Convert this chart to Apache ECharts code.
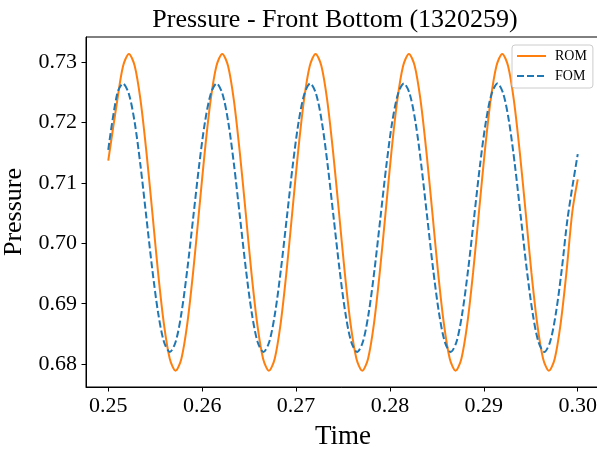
<!DOCTYPE html>
<html>
<head>
<meta charset="utf-8">
<script src="https://cdn.jsdelivr.net/npm/echarts@6/dist/echarts.min.js"></script>
<style>
html,body{margin:0;padding:0;background:#fff;}
#chart{width:597px;height:449px;}
</style>
</head>
<body>
<div id="chart"></div>
<script>
// ROM (orange, solid)
var romTime = [0.25000,0.25096,0.25158,
  0.25220,0.25282,0.25344,0.25406,0.25469,0.25531,0.25593,0.25655,0.25717,0.25779,0.25841,0.25903,0.25966,0.26028,0.26090,0.26152,
  0.26214,0.26276,0.26338,0.26400,0.26463,0.26525,0.26587,0.26649,0.26711,0.26773,0.26835,0.26897,0.26960,0.27022,0.27084,0.27146,
  0.27208,0.27270,0.27332,0.27394,0.27457,0.27519,0.27581,0.27643,0.27705,0.27767,0.27829,0.27891,0.27954,0.28016,0.28078,0.28140,
  0.28202,0.28264,0.28326,0.28388,0.28451,0.28513,0.28575,0.28637,0.28699,0.28761,0.28823,0.28885,0.28948,0.29010,0.29072,0.29134,
  0.29196,0.29258,0.29320,0.29382,0.29445,0.29507,0.29569,0.29631,0.29693,0.29755,0.29817,0.29879,0.29942,0.30000];
var romPressure = [0.7137,0.7237,0.7294,
  0.7314,0.7294,0.7237,0.7152,0.7052,0.6951,0.6866,0.6809,0.6789,0.6809,0.6866,0.6951,0.7052,0.7152,0.7237,0.7294,
  0.7314,0.7294,0.7237,0.7152,0.7052,0.6951,0.6866,0.6809,0.6789,0.6809,0.6866,0.6951,0.7052,0.7152,0.7237,0.7294,
  0.7314,0.7294,0.7237,0.7152,0.7052,0.6951,0.6866,0.6809,0.6789,0.6809,0.6866,0.6951,0.7052,0.7152,0.7237,0.7294,
  0.7314,0.7294,0.7237,0.7152,0.7052,0.6951,0.6866,0.6809,0.6789,0.6809,0.6866,0.6951,0.7052,0.7152,0.7237,0.7294,
  0.7314,0.7294,0.7237,0.7152,0.7052,0.6951,0.6866,0.6809,0.6789,0.6809,0.6866,0.6951,0.7052,0.7106];
// FOM (blue, dashed)
var fomTime = [0.25000,0.25095,
  0.25157,0.25219,0.25282,0.25344,0.25406,0.25469,0.25531,0.25593,0.25656,0.25718,0.25780,0.25842,0.25905,0.25967,0.26029,0.26092,
  0.26154,0.26216,0.26279,0.26341,0.26403,0.26466,0.26528,0.26590,0.26653,0.26715,0.26777,0.26839,0.26902,0.26964,0.27026,0.27089,
  0.27151,0.27213,0.27276,0.27338,0.27400,0.27463,0.27525,0.27587,0.27650,0.27712,0.27774,0.27836,0.27899,0.27961,0.28023,0.28086,
  0.28148,0.28210,0.28273,0.28335,0.28397,0.28460,0.28522,0.28584,0.28647,0.28709,0.28771,0.28833,0.28896,0.28958,0.29020,0.29083,
  0.29145,0.29207,0.29270,0.29332,0.29394,0.29457,0.29519,0.29581,0.29644,0.29706,0.29768,0.29830,0.29893,0.30000];
var fomPressure = [0.7155,0.7248,
  0.7265,0.7248,0.7200,0.7128,0.7043,0.6957,0.6885,0.6837,0.6820,0.6837,0.6885,0.6957,0.7043,0.7128,0.7200,0.7248,
  0.7265,0.7248,0.7200,0.7128,0.7043,0.6957,0.6885,0.6837,0.6820,0.6837,0.6885,0.6957,0.7043,0.7128,0.7200,0.7248,
  0.7265,0.7248,0.7200,0.7128,0.7043,0.6957,0.6885,0.6837,0.6820,0.6837,0.6885,0.6957,0.7043,0.7128,0.7200,0.7248,
  0.7265,0.7248,0.7200,0.7128,0.7043,0.6957,0.6885,0.6837,0.6820,0.6837,0.6885,0.6957,0.7043,0.7128,0.7200,0.7248,
  0.7265,0.7248,0.7200,0.7128,0.7043,0.6957,0.6885,0.6837,0.6820,0.6837,0.6885,0.6957,0.7043,0.7148];
var xTicks = [0.25,0.26,0.27,0.28,0.29,0.30];
var yTicks = [0.68,0.69,0.70,0.71,0.72,0.73];

function pairs(xs, ys){ return xs.map(function(x,i){ return [x, ys[i]]; }); }

var FONT = "'Liberation Serif', 'DejaVu Serif', serif";
var chart = echarts.init(document.getElementById('chart'), null, {renderer:'canvas'});
chart.setOption({
  animation:false,
  backgroundColor:'#fff',
  title:{
    text:'Pressure - Front Bottom (1320259)',
    left:330, top:2, textAlign:'center',
    textStyle:{fontFamily:FONT, fontSize:26, fontWeight:'normal', color:'#000'}
  },
  legend:{
    orient:'vertical', left:512, top:45,
    padding:[4,6,5,4], itemGap:6, itemWidth:29, itemHeight:14,
    backgroundColor:'rgba(255,255,255,0.8)', borderColor:'#cccccc', borderWidth:1, borderRadius:3,
    itemStyle:{opacity:0, borderWidth:0},
    textStyle:{fontFamily:FONT, fontSize:14, color:'#000', padding:[0,0,0,4]},
    data:['ROM','FOM']
  },
  grid:{left:86, top:37, width:514, height:350, show:true, borderColor:'#000', borderWidth:1,
    containLabel:false, outerBoundsMode:'none'},
  xAxis:{
    type:'value', min:0.24763, max:0.30237,
    name:'Time', nameLocation:'middle', nameGap:36,
    nameTextStyle:{fontFamily:FONT, fontSize:27, color:'#000'},
    axisLine:{show:true, lineStyle:{color:'#000', width:1}},
    axisTick:{show:true, length:4.5, lineStyle:{color:'#000', width:1}, customValues:xTicks},
    axisLabel:{fontFamily:FONT, fontSize:22, color:'#000', margin:8, customValues:xTicks,
      formatter:function(v){return v.toFixed(2);}},
    splitLine:{show:false}
  },
  yAxis:{
    type:'value', min:0.6762, max:0.7342,
    name:'Pressure', nameLocation:'middle', nameGap:57,
    nameTextStyle:{fontFamily:FONT, fontSize:26, color:'#000'},
    axisLine:{show:true, lineStyle:{color:'#000', width:1}},
    axisTick:{show:true, length:4.5, lineStyle:{color:'#000', width:1}, customValues:yTicks},
    axisLabel:{fontFamily:FONT, fontSize:22, color:'#000', margin:9, customValues:yTicks,
      formatter:function(v){return v.toFixed(2);}},
    splitLine:{show:false}
  },
  series:[
    {name:'ROM', type:'line', data:pairs(romTime, romPressure), smooth:0.3, symbol:'none',
     lineStyle:{color:'#ff7f0e', width:2}, itemStyle:{color:'#ff7f0e'}, z:2},
    {name:'FOM', type:'line', data:pairs(fomTime, fomPressure), smooth:0.3, symbol:'none',
     lineStyle:{color:'#1f77b4', width:2, type:[7,3]}, itemStyle:{color:'#1f77b4'}, z:3}
  ]
});
</script>
</body>
</html>
